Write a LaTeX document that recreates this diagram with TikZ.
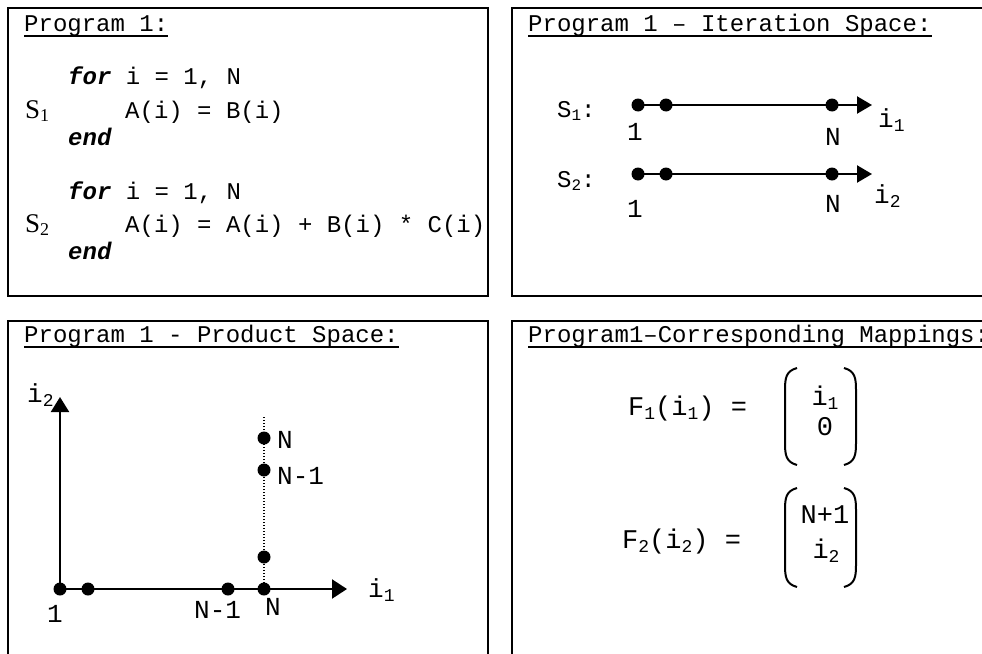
\documentclass[tikz,border=0pt]{standalone}
\usepackage{fontspec}
\setmainfont{Liberation Serif}
\newfontfamily\cour{Liberation Mono}
\usetikzlibrary{arrows.meta}
\newcommand\cf{\cour\fontsize{24}{28}\selectfont}
\newcommand\cg{\cour\fontsize{26}{30}\selectfont}
\newcommand\ch{\cour\fontsize{27}{31}\selectfont}
\newcommand\subA[1]{\raisebox{-3pt}{\fontsize{16}{16}\selectfont #1}}
\newcommand\subB[1]{\raisebox{-4pt}{\fontsize{18}{18}\selectfont #1}}
\newcommand\subC[1]{\raisebox{-3pt}{\fontsize{18}{18}\selectfont #1}}
\tikzset{
  frame/.style={draw, line width=2pt},
  txt/.style={inner sep=0pt, anchor=base west, font=\cf},
  stmt/.style={inner sep=0pt, anchor=base west, font=\rmfamily\fontsize{27}{30}\selectfont},
  lbl/.style={inner sep=0pt, anchor=base, font=\cg},
  lblw/.style={inner sep=0pt, anchor=base west, font=\cg},
  dot/.style={circle, fill=black, inner sep=0pt, minimum size=13pt},
  axis/.style={line width=2.2pt, -{Triangle[length=15pt,width=17pt]}},
  uline/.style={line width=1.3pt},
  paren/.style={line width=2pt}
}
\begin{document}
\begin{tikzpicture}[x=1pt,y=-1pt]
\clip (0,0) rectangle (982,653);
\fill[white] (0,0) rectangle (982,653);
% frames
\draw[frame] (8,8) rectangle (488,296);
\draw[frame] (512,8) rectangle (1000,296);
\draw[frame] (8,321) rectangle (488,670);
\draw[frame] (512,321) rectangle (1000,670);

% ---------- Program 1 ----------
\node[txt] (t1) at (24,31) {Program 1:};
\draw[uline] ([yshift=-5pt]t1.base west) -- ([yshift=-5pt]t1.base east);
\node[txt] (f1) at (68,84) {{\bfseries\itshape for} i = 1, N};
\node[stmt] (s1) at (25,118) {S\subC{1}};
\node[txt] (c1) at (125,118) {A(i) = B(i)};
\node[txt] (e1) at (68,145) {\bfseries\itshape end};
\node[txt] (f2) at (68,199) {{\bfseries\itshape for} i = 1, N};
\node[stmt] (s2) at (25,232) {S\subC{2}};
\node[txt] (c2) at (125,232) {A(i) = A(i) + B(i) * C(i)};
\node[txt] (e2) at (68,259) {\bfseries\itshape end};

% ---------- Iteration space ----------
\node[txt] (t2) at (528,31) {Program 1 – Iteration Space:};
\draw[uline] ([yshift=-5pt]t2.base west) -- ([yshift=-5pt]t2.base east);
\node[txt] (is1) at (557,117) {S\subA{1}:};
\node[txt] (is2) at (557,187) {S\subA{2}:};
\node[dot] (a1) at (638,105) {};
\node[dot] (a2) at (666,105) {};
\node[dot] (a3) at (832,105) {};
\coordinate (ae) at (872,105);
\draw[axis] (a1.center) -- (ae);
\node[dot] (b1) at (638,174) {};
\node[dot] (b2) at (666,174) {};
\node[dot] (b3) at (832,174) {};
\coordinate (be) at (872,174);
\draw[axis] (b1.center) -- (be);
\node[lbl] (la1) at (635,140) {1};
\node[lbl] (la3) at (833,145) {N};
\node[lblw] (lai) at (878,127) {i\subB{1}};
\node[lbl] (lb1) at (635,217) {1};
\node[lbl] (lb3) at (833,212) {N};
\node[lblw] (lbi) at (874,203) {i\subB{2}};

% ---------- Product space ----------
\node[txt] (t3) at (24,342) {Program 1 - Product Space:};
\draw[uline] ([yshift=-5pt]t3.base west) -- ([yshift=-5pt]t3.base east);
\coordinate (ye) at (60,397);
\coordinate (xe) at (347,589);
\coordinate (dtop) at (264,417);
\node[dot] (o) at (60,589) {};
\node[dot] (p2) at (88,589) {};
\node[dot] (p3) at (228,589) {};
\node[dot] (p4) at (264,589) {};
\node[dot] (q1) at (264,557) {};
\node[dot] (q2) at (264,470) {};
\node[dot] (q3) at (264,438) {};
\draw[line width=1.2pt, dash pattern=on 1.5pt off 1.5pt] (p4.center) -- (dtop);
\draw[line width=2.2pt, -{Triangle[length=15pt,width=18pt]}] (o.center) -- (ye);
\draw[line width=2.2pt, -{Triangle[length=15pt,width=19pt]}] (o.center) -- (xe);
\node[lblw] (lq3) at (277,448) {N};
\node[lblw] (lq2) at (277,484) {N-1};
\node[lbl] (lo) at (55,622) {1};
\node[lblw] (lp3) at (194,618) {N-1};
\node[lblw] (lp4) at (265,615) {N};
\node[lblw] (lx) at (368,597) {i\subB{1}};
\node[lblw] (ly) at (27,402) {i\subB{2}};

% ---------- Mappings ----------
\node[txt] (t4) at (528,342) {Program1–Corresponding Mappings:};
\draw[uline] ([yshift=-5pt]t4.base west) -- ([yshift=-5pt]t4.base east);
\node[inner sep=0pt, anchor=base west, font=\ch] (F1) at (628,415) {F\subB{1}(i\subB{1}) =};
\node[inner sep=0pt, anchor=base, font=\ch] (m11) at (825,405) {i\subB{1}};
\node[inner sep=0pt, anchor=base, font=\ch] (m12) at (825,435) {0};
\draw[paren] (797,368) .. controls (786,371) and (785,378) .. (785,390) -- (785,443) .. controls (785,455) and (786,462) .. (797,465);
\draw[paren] (844,368) .. controls (855,371) and (856,378) .. (856,390) -- (856,443) .. controls (856,455) and (855,462) .. (844,465);
\node[inner sep=0pt, anchor=base west, font=\ch] (F2) at (622,548) {F\subB{2}(i\subB{2}) =};
\node[inner sep=0pt, anchor=base, font=\ch] (m21) at (825,523) {N+1};
\node[inner sep=0pt, anchor=base, font=\ch] (m22) at (826,558) {i\subB{2}};
\draw[paren] (797,488) .. controls (786,491) and (785,498) .. (785,510) -- (785,565) .. controls (785,577) and (786,584) .. (797,587);
\draw[paren] (844,488) .. controls (855,491) and (856,498) .. (856,510) -- (856,565) .. controls (856,577) and (855,584) .. (844,587);
\end{tikzpicture}
\end{document}
